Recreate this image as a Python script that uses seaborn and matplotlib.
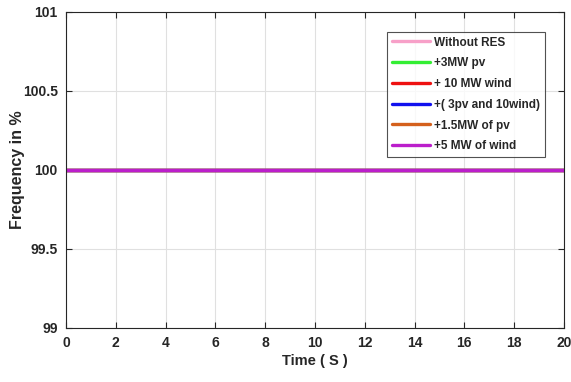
import numpy as np
import pandas as pd
import matplotlib
matplotlib.use("Agg")
import matplotlib.pyplot as plt
import seaborn as sns

time_s = [0, 20]
without_res = [100, 100]
pv_3mw = [100, 100]
wind_10mw = [100, 100]
pv3_wind10 = [100, 100]
pv_1_5mw = [100, 100]
wind_5mw = [100, 100]

labels = ["Without RES", "+3MW pv", "+ 10 MW wind", "+( 3pv and 10wind)",
          "+1.5MW of pv", "+5 MW of wind"]
colors = ["#f7a0c8", "#33ee33", "#ee1111", "#1111ee", "#d4601c", "#bb1ecb"]
series = [without_res, pv_3mw, wind_10mw, pv3_wind10, pv_1_5mw, wind_5mw]

rows = []
for lab, vals in zip(labels, series):
    for t, v in zip(time_s, vals):
        rows.append({"Time": t, "Freq": v, "Series": lab})
df = pd.DataFrame(rows)

sns.set_theme(style="white")
plt.rcParams['font.family'] = ['Liberation Sans', 'DejaVu Sans']
plt.rcParams['font.weight'] = 'bold'

fig = plt.figure(figsize=(5.71, 3.82), dpi=100)
ax = fig.add_axes([0.1156, 0.1414, 0.872, 0.8272])
sns.lineplot(data=df, x="Time", y="Freq", hue="Series", hue_order=labels,
             palette=dict(zip(labels, colors)), linewidth=2.4, ax=ax,
             estimator=None, sort=False)

ax.set_xlim(0, 20)
ax.set_ylim(99, 101)
ax.set_xticks(np.arange(0, 21, 2))
ax.set_yticks([99, 99.5, 100, 100.5, 101])
ax.set_yticklabels(["99", "99.5", "100", "100.5", "101"])
ax.grid(True, color="#e0e0e0", linewidth=0.8)
ax.tick_params(direction="in", length=4, width=0.8, colors="#262626",
               labelsize=10, top=True, right=True, bottom=True, left=True,
               labelcolor="#262626", pad=6)
for lab in ax.get_xticklabels() + ax.get_yticklabels():
    lab.set_fontweight("bold")
for sp in ax.spines.values():
    sp.set_color("#262626")
    sp.set_linewidth(0.8)
ax.set_xlabel("Time ( S )", fontsize=10.5, fontweight="bold", color="#262626", labelpad=3)
ax.set_ylabel("Frequency in %", fontsize=11.5, fontweight="bold", color="#262626")
ax.yaxis.set_label_coords(-0.082, 0.5)

leg = ax.legend(loc="upper right", bbox_to_anchor=(0.962, 0.937), fontsize=8.5,
                frameon=True, fancybox=False, edgecolor="#262626",
                handlelength=3.2, handletextpad=0.4, labelspacing=0.74,
                borderpad=0.4, borderaxespad=0)
leg.get_frame().set_linewidth(0.8)
for t in leg.get_texts():
    t.set_fontweight("bold")
for l in leg.get_lines():
    l.set_linewidth(2.4)

fig.savefig("out.png", dpi=100)
